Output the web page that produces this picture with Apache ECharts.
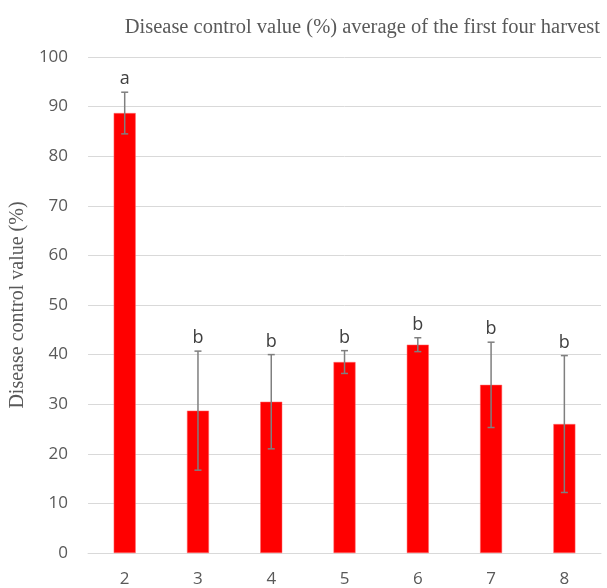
<!DOCTYPE html>
<html>
<head>
<meta charset="utf-8">
<script src="https://cdn.jsdelivr.net/npm/echarts@6/dist/echarts.min.js"></script>
<style>html,body{margin:0;padding:0;background:#fff}#c{width:607px;height:588px}</style>
</head>
<body>
<div id="c"></div>
<script>
var categories = ['2', '3', '4', '5', '6', '7', '8'];
var values = [88.7, 28.7, 30.5, 38.5, 42.0, 33.9, 26.0];
var errors = [4.2, 12.0, 9.5, 2.3, 1.4, 8.6, 13.8];
var letters = ['a', 'b', 'b', 'b', 'b', 'b', 'b'];
var yTicks = [0, 10, 20, 30, 40, 50, 60, 70, 80, 90, 100];

var chart = echarts.init(document.getElementById('c'), null, {renderer: 'canvas'});
var errData = categories.map(function (c, i) {
  return [i, values[i] - errors[i], values[i] + errors[i], letters[i]];
});
chart.setOption({
  animation: false,
  title: {
    text: 'Disease control value (%) average of the first four harvest',
    right: 2, top: 12,
    textStyle: {fontFamily: 'Liberation Serif', fontWeight: 'normal', fontSize: 20.5, color: '#595959'}
  },
  grid: {left: 85, right: 6, top: 57, bottom: 35},
  xAxis: {
    type: 'category', data: categories,
    axisLine: {lineStyle: {color: '#d9d9d9', width: 1}},
    axisTick: {show: false},
    axisLabel: {color: '#595959', fontFamily: 'Open Sans', fontSize: 17, margin: 18}
  },
  yAxis: {
    type: 'value', min: yTicks[0], max: yTicks[yTicks.length - 1], interval: 10,
    name: 'Disease control value (%)', nameLocation: 'middle', nameGap: 51,
    nameTextStyle: {fontFamily: 'Liberation Serif', fontSize: 20, color: '#595959'},
    axisLine: {show: false}, axisTick: {show: false},
    splitLine: {lineStyle: {color: '#d9d9d9', width: 1}},
    axisLabel: {color: '#595959', fontFamily: 'Open Sans', fontSize: 17, margin: 20}
  },
  series: [{
    type: 'bar', data: values, barWidth: 22,
    itemStyle: {color: '#ff0000', borderColor: '#ff6b6b', borderWidth: 0.5}
  }, {
    type: 'custom', data: errData,
    encode: {x: 0, y: [1, 2]},
    renderItem: function (params, api) {
      var x = api.value(0);
      var lo = api.coord([x, api.value(1)]);
      var hi = api.coord([x, api.value(2)]);
      var hw = 3.5;
      var st = {stroke: '#7f7f7f', lineWidth: 1.5};
      return {
        type: 'group',
        children: [
          {type: 'line', shape: {x1: hi[0], y1: hi[1], x2: lo[0], y2: lo[1]}, style: st},
          {type: 'line', shape: {x1: hi[0] - hw, y1: hi[1], x2: hi[0] + hw, y2: hi[1]}, style: st},
          {type: 'line', shape: {x1: lo[0] - hw, y1: lo[1], x2: lo[0] + hw, y2: lo[1]}, style: st},
          {type: 'text', style: {text: api.value(3), x: hi[0], y: hi[1] - 13, align: 'center', verticalAlign: 'middle',
            fontFamily: 'Open Sans', fontSize: 18, fill: '#404040'}}
        ]
      };
    },
    z: 10
  }]
});
</script>
</body>
</html>
